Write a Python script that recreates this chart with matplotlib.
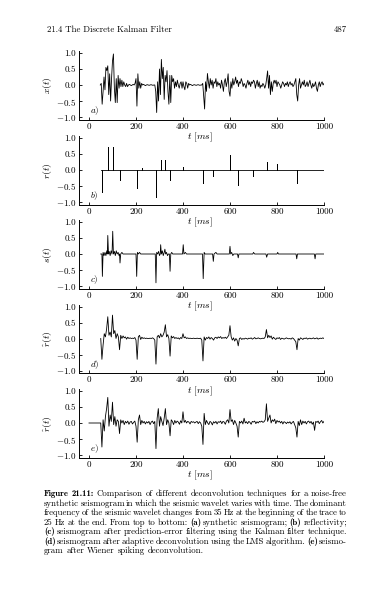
import re
import numpy as np
import matplotlib
matplotlib.use("Agg")
import matplotlib.pyplot as plt

plt.rcParams['font.family'] = ['cmr10', 'DejaVu Serif']
plt.rcParams['mathtext.fontset'] = 'cm'
plt.rcParams['axes.unicode_minus'] = False

# ---- data ----
# (a) synthetic seismogram, 4 ms samples starting at 48 ms
A_T0, A_DT = 48, 4
A_V = [0.0, 0.05, -0.6, -0.2, 0.25, -0.15, 0.55, 0.45, 0.6, -0.3,
       0.35, -0.5, 0.2, 0.75, 0.97, -0.1, -0.55, 0.2, -0.55, 0.3,
       -0.1, 0.2, -0.05, 0.15, -0.05, 0.1, 0.0, -0.05, 0.05, -0.05,
       0.0, 0.02, 0.0, -0.02, 0.0, 0.02, 0.0, 0.05, 0.2, -0.66,
       0.35, -0.1, 0.1, -0.1, 0.05, 0.0, 0.02, 0.0, -0.02, 0.0,
       0.01, 0.0, -0.01, 0.0, 0.01, 0.0, -0.01, 0.0, 0.0, -0.2,
       -0.86, 0.1, -0.5, 0.5, -0.3, 0.8, 0.2, 0.55, -0.45, 0.3,
       0.1, 0.45, -0.2, -0.6, 0.3, -0.55, 0.3, 0.1, 0.2, -0.1,
       0.1, -0.05, 0.15, 0.0, -0.1, 0.05, 0.1, -0.1, 0.1, -0.05,
       -0.15, 0.1, 0.05, -0.1, 0.05, 0.0, 0.02, 0.0, -0.02, 0.0,
       0.01, 0.0, -0.01, 0.0, 0.01, 0.0, -0.01, 0.0, 0.0, 0.05,
       -0.35, -0.75, 0.1, -0.2, 0.36, 0.1, -0.1, 0.2, 0.0, 0.15,
       -0.1, 0.1, 0.05, 0.2, -0.05, 0.1, 0.0, 0.05, -0.1, 0.15,
       0.0, -0.2, 0.1, 0.2, -0.05, 0.1, 0.35, -0.2, -0.35, 0.1,
       -0.1, 0.2, 0.0, 0.1, 0.25, 0.05, 0.15, -0.05, 0.1, 0.05,
       0.2, 0.1, -0.05, 0.05, 0.0, -0.1, 0.05, 0.15, 0.0, 0.1,
       -0.05, 0.1, 0.05, 0.15, 0.1, -0.1, 0.05, 0.15, -0.05, 0.1,
       -0.1, 0.0, -0.05, 0.05, 0.0, -0.1, 0.0, 0.2, 0.44, -0.1,
       0.3, -0.3, 0.1, -0.2, 0.05, 0.15, 0.05, 0.15, -0.05, 0.1,
       0.05, 0.0, -0.1, 0.0, 0.1, 0.05, -0.05, 0.05, 0.0, 0.1,
       -0.05, 0.05, 0.1, 0.0, 0.05, -0.05, 0.0, 0.1, 0.2, -0.3,
       -0.5, 0.0, 0.2, -0.1, 0.0, 0.1, 0.0, 0.15, -0.05, 0.0,
       0.1, -0.05, 0.05, 0.15, 0.0, -0.1, 0.05, -0.05, 0.0, 0.1,
       -0.1, -0.2, 0.0, 0.1, -0.05, 0.05, 0.1, 0.0, 0.05]

# (b) reflectivity spikes
B_T = [57, 80, 101, 132, 203, 225, 285, 305, 323, 345, 401, 486, 529,
       600, 635, 699, 756, 798, 884]
B_V = [-0.68, 0.73, 0.73, -0.31, -0.57, 0.05, -0.83, 0.31, 0.31, -0.31,
       0.1, -0.42, -0.2, 0.47, -0.47, -0.2, 0.26, 0.18, -0.42]
B_START, B_END = 50, 1000

# (c) prediction-error filtering (Kalman)
C_T = [50, 55, 57, 60, 64, 68, 72, 76, 78, 80, 83, 86, 90, 94, 98, 101, 104,
       108, 112, 116, 120, 124, 128, 130, 132, 135, 140, 145,
       200, 203, 206, 210, 215, 220,
       282, 285, 288, 292, 296, 300, 303, 305, 308, 312, 316, 320, 323, 326,
       330, 334, 338, 342, 345, 348, 352, 356,
       398, 401, 404, 410, 415,
       483, 486, 490, 494,
       526, 529, 532, 540, 545,
       597, 600, 603, 607, 612, 616,
       632, 635, 638, 697, 700, 705, 753, 756, 760, 800, 803, 806,
       881, 884, 887, 959, 962, 965, 1000]
C_V = [0.0, 0.0, -0.70, 0.05, -0.05, 0.05, -0.05, 0.1, 0.0, 0.58, 0.0, 0.08,
       -0.05, 0.1, 0.0, 0.71, 0.0, 0.08, -0.05, 0.1, 0.0, 0.05, -0.05, 0.0,
       -0.28, 0.0, 0.05, 0.0,
       0.0, -0.70, 0.05, 0.0, 0.05, 0.0,
       0.0, -0.90, 0.05, 0.0, 0.08, -0.05, 0.0, 0.29, 0.0, 0.1, -0.05, 0.05,
       0.15, 0.0, 0.05, -0.05, 0.0, 0.0, -0.54, 0.0, 0.05, 0.0,
       0.0, 0.29, 0.0, 0.05, 0.0,
       0.0, -0.77, 0.05, 0.0,
       0.0, -0.23, 0.0, 0.05, 0.0,
       0.0, 0.24, 0.0, 0.05, -0.05, 0.0,
       0.0, -0.12, 0.0, 0.0, 0.05, 0.0, 0.0, -0.1, 0.0, 0.0, 0.05, 0.0,
       0.0, -0.15, 0.0, 0.0, -0.15, 0.0, 0.0]

# (d) adaptive deconvolution (LMS), 5 ms samples starting at 50 ms
D_T0, D_DT = 50, 5
D_V = [0.0, -0.65, -0.2, 0.15, 0.05, 0.3, 0.68, 0.1, 0.2, 0.05,
       0.73, 0.15, 0.25, 0.0, 0.15, 0.05, -0.35, 0.1, 0.0, 0.08,
       0.02, 0.05, -0.02, 0.04, 0.0, 0.02, 0.0, 0.01, 0.0, 0.03,
       -0.05, -0.65, 0.05, 0.1, -0.03, 0.04, 0.0, 0.02, 0.0, 0.01,
       0.0, 0.0, 0.01, 0.0, 0.02, 0.0, -0.05, -0.8, 0.05, 0.1,
       0.02, 0.15, 0.05, 0.1, 0.2, 0.43, 0.05, 0.12, 0.0, -0.55,
       0.08, 0.02, 0.06, 0.0, 0.03, 0.0, 0.02, -0.02, 0.03, 0.0,
       0.15, 0.02, 0.05, 0.0, 0.02, 0.0, 0.01, 0.0, 0.0, 0.01,
       0.0, 0.0, 0.01, 0.0, 0.0, 0.01, -0.05, -0.7, 0.05, -0.05,
       0.03, 0.0, 0.05, -0.02, 0.03, 0.0, -0.05, 0.02, 0.04, 0.0,
       0.05, 0.02, 0.06, 0.0, 0.03, 0.01, 0.04, 0.0, 0.05, 0.1,
       0.4, 0.05, -0.05, 0.02, -0.08, 0.0, -0.05, -0.23, 0.0, 0.02,
       -0.03, 0.0, -0.02, 0.01, 0.0, -0.02, 0.01, 0.0, 0.02, -0.02,
       0.0, 0.03, -0.01, 0.0, 0.02, 0.0, -0.01, 0.0, 0.01, 0.0,
       0.05, 0.28, 0.02, 0.1, 0.03, 0.08, -0.02, 0.04, 0.0, -0.03,
       0.02, 0.0, 0.03, -0.03, 0.01, 0.0, -0.02, 0.0, 0.02, 0.0,
       -0.01, 0.0, -0.02, 0.02, 0.0, -0.05, -0.1, -0.35, 0.0, -0.05,
       0.02, 0.0, -0.03, 0.01, 0.0, 0.02, -0.02, 0.0, 0.01, -0.01,
       0.0, 0.02, -0.01, 0.0, 0.02, -0.02, 0.0, 0.01, 0.0, 0.02,
       0.0]

# (e) Wiener spiking deconvolution, 5 ms samples starting at 0 ms
E_T0, E_DT = 0, 5
E_V = [0, 0, 0, 0, 0, 0, 0, 0, 0, 0,
       0.0, -0.75, 0.1, -0.25, 0.2, 0.45, 0.8, -0.1, 0.25, 0.05,
       0.65, -0.05, 0.2, -0.1, 0.1, 0.05, -0.33, 0.1, 0.0, 0.08,
       -0.05, 0.05, 0.0, 0.06, -0.04, 0.03, 0.05, -0.03, 0.02, 0.06,
       -0.1, -0.6, 0.1, 0.25, -0.05, 0.08, 0.0, 0.05, -0.03, 0.04,
       0.0, 0.05, -0.05, 0.03, 0.06, -0.02, 0.05, -0.8, 0.15, 0.45,
       -0.1, 0.2, 0.05, -0.08, 0.15, 0.45, -0.05, 0.1, 0.0, -0.4,
       0.1, 0.05, -0.05, 0.08, 0.0, 0.06, 0.03, -0.04, 0.07, 0.0,
       0.35, 0.02, 0.08, 0.0, 0.05, 0.03, -0.03, 0.05, 0.02, 0.04,
       0.0, 0.03, 0.05, -0.02, 0.04, 0.0, -0.1, -0.67, 0.3, -0.05,
       0.08, 0.0, -0.05, 0.05, 0.02, -0.06, 0.04, 0.0, 0.05, -0.03,
       0.04, 0.02, 0.06, -0.02, 0.05, 0.03, -0.04, 0.06, 0.1, 0.0,
       0.42, 0.05, 0.1, -0.05, 0.08, 0.0, -0.1, -0.44, 0.05, 0.0,
       0.06, -0.03, 0.15, 0.0, 0.04, -0.02, 0.05, 0.02, -0.04, 0.05,
       0.03, 0.06, -0.02, 0.04, 0.0, 0.05, 0.03, 0.06, 0.02, 0.04,
       0.1, 0.6, 0.05, 0.15, 0.25, 0.0, 0.1, 0.05, 0.12, -0.02,
       0.08, 0.03, 0.06, 0.0, 0.05, -0.03, 0.04, 0.02, -0.02, 0.03,
       0.0, 0.04, -0.03, 0.02, 0.05, -0.05, -0.15, -0.44, 0.05, -0.08,
       0.1, -0.05, 0.06, 0.0, 0.05, -0.03, 0.04, 0.06, 0.0, 0.05,
       -0.04, 0.03, -0.23, 0.05, 0.02, 0.06, -0.02, 0.04, 0.08, 0.0,
       0.05]

X_TICKS = [0, 200, 400, 600, 800, 1000]
Y_TICKS = [1.0, 0.5, 0.0, -0.5, -1.0]
Y_TICKLABELS = ['1.0', '0.5', '0.0', '$-$0.5', '$-$1.0']
YLABELS = [r'$x(t)$', r'$r(t)$', r'$s(t)$', r'$\hat{r}(t)$', r'$\hat{r}(t)$']
PANEL_TAGS = [r'$a)$', r'$b)$', r'$c)$', r'$d)$', r'$e)$']

HEADER_LEFT = '21.4 The Discrete Kalman Filter'
HEADER_RIGHT = '487'
CAPTION = [
    'Figure 21.11: Comparison of different deconvolution techniques for a noise-free',
    'synthetic seismogram in which the seismic wavelet varies with time. The dominant',
    'frequency of the seismic wavelet changes from 35 Hz at the beginning of the trace to',
    '25 Hz at the end. From top to bottom: (a) synthetic seismogram; (b) reflectivity;',
    '(c) seismogram after prediction-error filtering using the Kalman filter technique.',
    '(d) seismogram after adaptive deconvolution using the LMS algorithm. (e) seismo-',
    'gram after Wiener spiking deconvolution.',
]

# ---- build the traces ----
def sampled(t0, dt, vals):
    return t0 + dt * np.arange(len(vals)), np.asarray(vals, float)

def spikes(ts, vs, start, end):
    t, v = [start], [0.0]
    for ti, vi in zip(ts, vs):
        t += [ti, ti, ti]
        v += [0.0, vi, 0.0]
    t.append(end)
    v.append(0.0)
    return np.array(t), np.array(v)

traces = [sampled(A_T0, A_DT, A_V),
          spikes(B_T, B_V, B_START, B_END),
          (np.array(C_T), np.array(C_V)),
          sampled(D_T0, D_DT, D_V),
          sampled(E_T0, E_DT, E_V)]

# ---- figure ----
W, H = 391, 592
fig = plt.figure(figsize=(W / 100, H / 100), dpi=100)

YLO, YHI = -1.08, 1.05
PX_PER_UNIT = 32.0
zero_rows = [85, 170, 254, 338.5, 423]     # pixel row of y = 0 in each panel
left_px, right_px = 79, 324
XLO = -42.5

for k, (t, v) in enumerate(traces):
    y0 = zero_rows[k]
    top = y0 - YHI * PX_PER_UNIT
    bot = y0 - YLO * PX_PER_UNIT
    ax = fig.add_axes([left_px / W, 1 - bot / H, (right_px - left_px) / W,
                       (bot - top) / H])
    ax.patch.set_visible(False)
    ax.plot(t, v, color='black', lw=0.6)
    ax.set_xlim(XLO, 1000)
    ax.set_ylim(YLO, YHI)
    for s in ('top', 'right'):
        ax.spines[s].set_visible(False)
    for s in ('left', 'bottom'):
        ax.spines[s].set_linewidth(0.7)
    ax.set_xticks(X_TICKS)
    ax.set_xticklabels([str(x) for x in X_TICKS])
    ax.set_yticks(Y_TICKS)
    ax.set_yticklabels(Y_TICKLABELS)
    ax.tick_params(direction='in', length=2.5, width=0.6, labelsize=6.5, pad=2)
    ax.set_ylabel(YLABELS[k], fontsize=7)
    ax.yaxis.set_label_coords(-0.10, 0.5)
    ax.set_xlabel(r'$t\ [ms]$', fontsize=7)
    ax.xaxis.set_label_coords(0.494, -0.17)
    ax.text(5, -0.8, PANEL_TAGS[k], fontsize=6.5, ha='left', va='center')

# ---- header ----
fig.text(47 / W, 1 - 30 / H, HEADER_LEFT, fontsize=6.3, va='center', ha='left')
fig.text(347 / W, 1 - 30 / H, HEADER_RIGHT, fontsize=6.3, va='center', ha='right')

# ---- justified caption ----
renderer = fig.canvas.get_renderer()
cap_x0, cap_x1 = 44, 347
cap_rows = [494, 503.5, 513, 522.5, 532, 541.3, 550.7]
CAP_SIZE = 6.3
for li, (line, yrow) in enumerate(zip(CAPTION, cap_rows)):
    words = line.split(' ')
    texts = []
    for wi, w in enumerate(words):
        bold = (li == 0 and wi < 2) or re.fullmatch(r'\([a-e]\)', w)
        fam = 'cmb10' if bold else ['cmr10', 'DejaVu Serif']
        texts.append(fig.text(0, 1 - yrow / H, w, fontsize=CAP_SIZE,
                              family=fam, va='center', ha='left'))
    widths = [tx.get_window_extent(renderer).width for tx in texts]
    if li < len(CAPTION) - 1:
        gap = (cap_x1 - cap_x0 - sum(widths)) / (len(words) - 1)
    else:
        gap = CAP_SIZE * 100 / 72 * 0.33
    x = cap_x0
    for tx, wd in zip(texts, widths):
        tx.set_x(x / W)
        x += wd + gap

fig.savefig('out.png', dpi=100)
